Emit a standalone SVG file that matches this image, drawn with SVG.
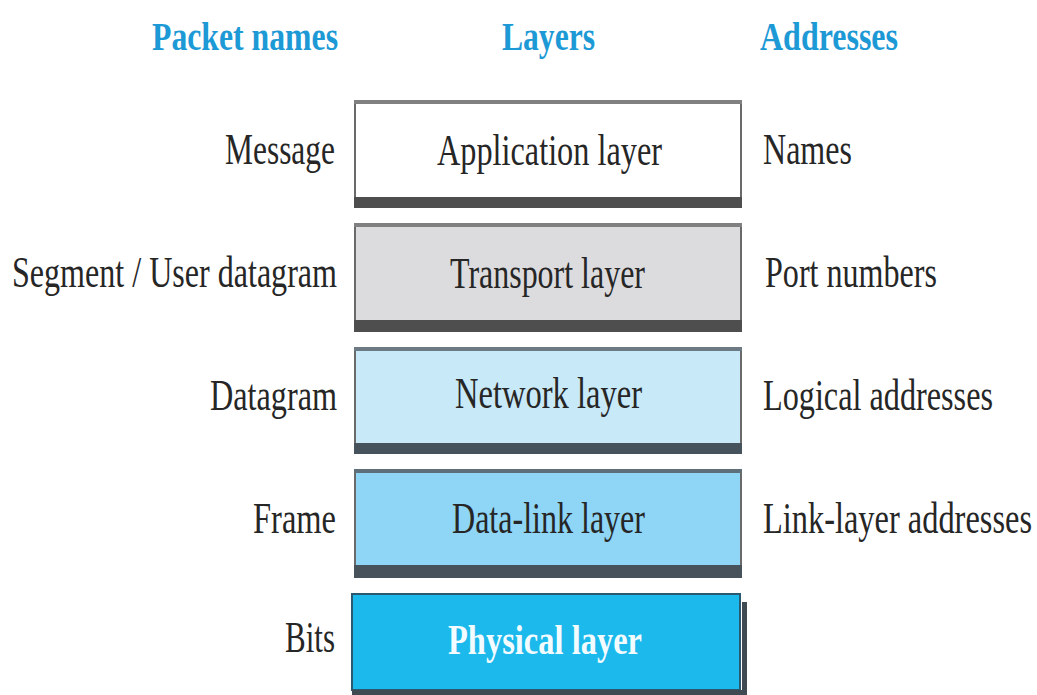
<svg xmlns="http://www.w3.org/2000/svg" width="1037" height="695" viewBox="0 0 1037 695">
  <style>
    text { font-family: "Liberation Serif", "Times New Roman", serif; }
    .head { font-size: 40px; font-weight: bold; fill: #1d9ad6; }
    .side, .lbl { font-size: 31px; fill: #262626; }
    .box  { stroke: #6a6a6a; stroke-width: 2; }
    .topband { fill: #808080; }
    .band { fill: #4e4e4e; }
  </style>

  <rect width="1037" height="695" fill="#ffffff"/>

  <!-- column headings -->
  <g id="headings">
    <text class="head" x="152" y="50" textLength="186" lengthAdjust="spacingAndGlyphs">Packet names</text>
    <text class="head" x="502" y="50" textLength="93" lengthAdjust="spacingAndGlyphs">Layers</text>
    <text class="head" x="760" y="50" textLength="138" lengthAdjust="spacingAndGlyphs" fill="#179fc8">Addresses</text>
  </g>

  <!-- application layer -->
  <g id="application">
    <rect class="box" x="355" y="101" width="386" height="100" fill="#ffffff"/>
    <rect class="topband" x="354" y="100" width="388" height="4"/>
    <rect class="band" x="354" y="197" width="388" height="11"/>
    <text class="lbl" transform="translate(437 165) scale(1 1.42)" textLength="225" lengthAdjust="spacingAndGlyphs">Application layer</text>
    <text class="side" transform="translate(225 164) scale(1 1.42)" textLength="110" lengthAdjust="spacingAndGlyphs">Message</text>
    <text class="side" transform="translate(763 164) scale(1 1.42)" textLength="89" lengthAdjust="spacingAndGlyphs">Names</text>
  </g>

  <!-- transport layer -->
  <g id="transport">
    <rect class="box" x="355" y="224" width="386" height="100" fill="#dcdcdf"/>
    <rect class="topband" x="354" y="223" width="388" height="4"/>
    <rect class="band" x="354" y="320" width="388" height="12"/>
    <text class="lbl" transform="translate(450 288) scale(1 1.42)" textLength="195" lengthAdjust="spacingAndGlyphs">Transport layer</text>
    <text class="side" transform="translate(12 287) scale(1 1.42)" textLength="325" lengthAdjust="spacingAndGlyphs">Segment / User datagram</text>
    <text class="side" transform="translate(765 287) scale(1 1.42)" textLength="172" lengthAdjust="spacingAndGlyphs">Port numbers</text>
  </g>

  <!-- network layer -->
  <g id="network">
    <rect class="box" x="355" y="348" width="386" height="100" fill="#c8e9f8" stroke="#5a6670"/>
    <rect x="354" y="347" width="388" height="4" fill="#6d7a84"/>
    <rect x="354" y="443" width="388" height="11" fill="#47535c"/>
    <text class="lbl" transform="translate(455 408) scale(1 1.42)" textLength="187" lengthAdjust="spacingAndGlyphs" fill="#1e3240">Network layer</text>
    <text class="side" transform="translate(210 410) scale(1 1.42)" textLength="127" lengthAdjust="spacingAndGlyphs">Datagram</text>
    <text class="side" transform="translate(763 410) scale(1 1.42)" textLength="230" lengthAdjust="spacingAndGlyphs">Logical addresses</text>
  </g>

  <!-- data-link layer -->
  <g id="datalink">
    <rect class="box" x="355" y="470" width="386" height="100" fill="#8ed5f6" stroke="#56636d"/>
    <rect x="354" y="469" width="388" height="4" fill="#5f6f7a"/>
    <rect x="354" y="565" width="388" height="13" fill="#47525a"/>
    <text class="lbl" transform="translate(452 533) scale(1 1.42)" textLength="193" lengthAdjust="spacingAndGlyphs" fill="#1b3448">Data-link layer</text>
    <text class="side" transform="translate(253 533) scale(1 1.42)" textLength="83" lengthAdjust="spacingAndGlyphs">Frame</text>
    <text class="side" transform="translate(763 533) scale(1 1.42)" textLength="269" lengthAdjust="spacingAndGlyphs">Link-layer addresses</text>
  </g>

  <!-- physical layer -->
  <g id="physical">
    <rect x="742" y="602" width="5" height="93" fill="#3f4a52"/>
    <rect x="352" y="594" width="388" height="96" fill="#1bb9ec" stroke="#2b5a70" stroke-width="2"/>
    <rect x="352" y="690" width="392" height="5" fill="#3f4a52"/>
    <text x="448" y="654" textLength="194" lengthAdjust="spacingAndGlyphs" style="font-size:42px;font-weight:bold;fill:#f2fbff">Physical layer</text>
    <text class="side" transform="translate(285 652) scale(1 1.42)" textLength="50" lengthAdjust="spacingAndGlyphs">Bits</text>
  </g>
</svg>
